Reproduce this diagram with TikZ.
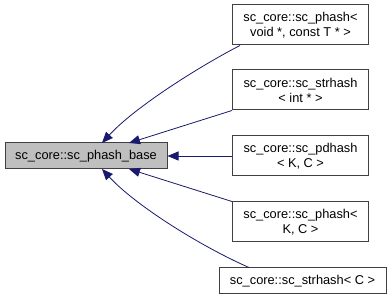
\documentclass[tikz,border=0pt]{standalone}
\usepackage{fontspec}
\setmainfont{Liberation Sans}
\usetikzlibrary{arrows.meta}
\definecolor{edgeblue}{HTML}{191970}
\definecolor{boxline}{HTML}{404040}
\definecolor{basefill}{HTML}{BFBFBF}
\begin{document}
\begin{tikzpicture}[x=1pt,y=-1pt,
  cls/.style={draw=boxline,line width=1pt,fill=white,inner sep=0pt,align=center,
    font=\fontsize{12.8}{15}\selectfont,minimum width=136pt,minimum height=40pt},
  basecls/.style={cls,fill=basefill,minimum width=162pt,minimum height=26pt},
  inherit/.style={draw=edgeblue,line width=0.8pt,
    {Triangle[length=11pt,width=9pt,fill=edgeblue]}-}]
\useasboundingbox (0,0) rectangle (392,299);
\fill[white] (0,0) rectangle (392,299);

\node[basecls] (base) at (86,156) {sc\_core::sc\_phash\_base};

\node[cls] (ph1) at (300.5,25) {sc\_core::sc\_phash<\\void *, const T * >};
\node[cls] (sh1) at (300.5,90) {sc\_core::sc\_strhash\\< int * >};
\node[cls] (pd)  at (300.5,156) {sc\_core::sc\_pdhash\\< K, C >};
\node[cls] (ph2) at (300.5,222) {sc\_core::sc\_phash<\\K, C >};
\node[cls,minimum width=167pt,minimum height=26pt] (sh2) at (302.5,281) {sc\_core::sc\_strhash< C >};

% inheritance edges, heads at the base class
\coordinate (t1) at (102,143);
\coordinate (t2) at (129,143);
\coordinate (t4) at (129,169);
\coordinate (t5) at (102,169);
\draw[inherit] (t1) .. controls (135,107) and (200,66) .. (ph1.south west -| 240,0);
\draw[inherit] (t2) -- (sh1.south west);
\draw[inherit] (base.east) -- (pd.west);
\draw[inherit] (t4) -- (ph2.north west);
\draw[inherit] (t5) .. controls (135,205) and (200,246) .. (sh2.north west -| 249,0);
\end{tikzpicture}
\end{document}
